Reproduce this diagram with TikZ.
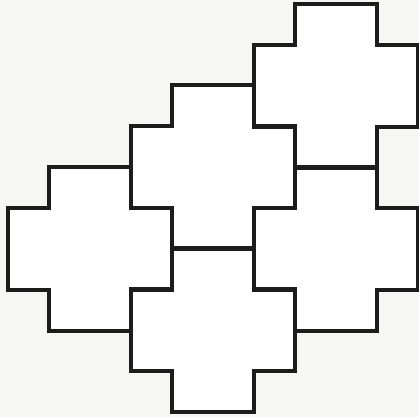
\documentclass[tikz,border=0pt]{standalone}
\definecolor{bgcol}{RGB}{246,246,245}
\definecolor{edgecol}{RGB}{28,28,28}
\tikzset{
  tilefill/.style={fill=white,draw=none},
  tileedge/.style={draw=edgecol,line width=3.6pt,line join=miter,fill=none},
  pics/crosstile/.style={
    code={
      \path[#1] (-41,-82) -- (41,-82) -- (41,-41) -- (82,-41) -- (82,41) -- (41,41)
        -- (41,82) -- (-41,82) -- (-41,41) -- (-82,41) -- (-82,-41) -- (-41,-41) -- cycle;
    }
  }
}
\begin{document}
\begin{tikzpicture}[x=1pt,y=-1pt]
  \fill[bgcol] (0,0) rectangle (419,417);
  \useasboundingbox (0,0) rectangle (419,417);
  \foreach \cx/\cy/\nm in {336/86/a,213/167/b,90/249/c,213/330/d,336/249/e}{
    \pic (fill\nm) at (\cx,\cy) {crosstile=tilefill};
  }
  \foreach \cx/\cy/\nm in {336/86/a,213/167/b,90/249/c,213/330/d,336/249/e}{
    \pic (edge\nm) at (\cx,\cy) {crosstile=tileedge};
  }
\end{tikzpicture}
\end{document}
